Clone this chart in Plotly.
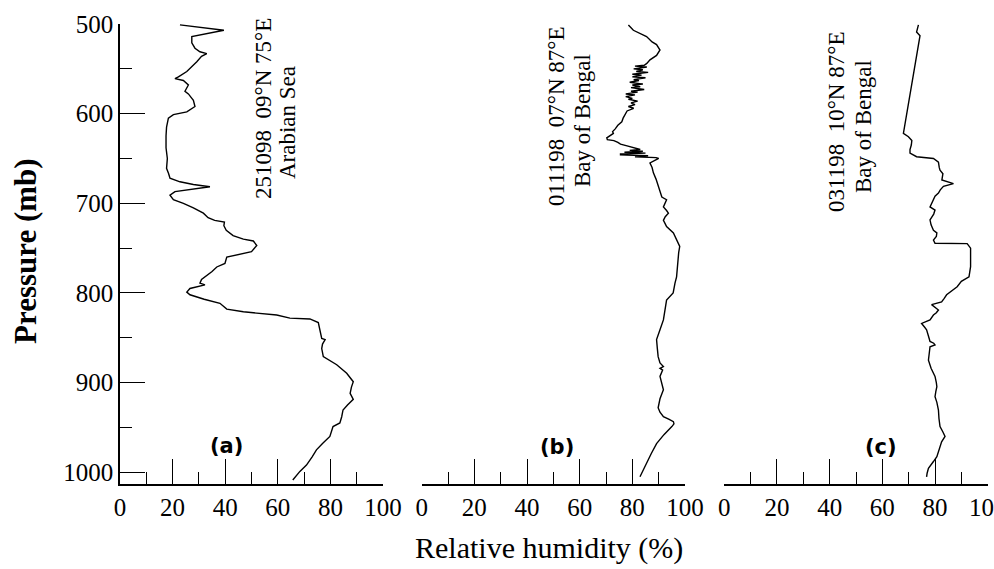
import plotly.graph_objects as go

# ---------------- data ----------------
# Panel (a) 251098 09N 75E Arabian Sea
p_a = [501, 507, 514, 521, 527, 531, 533, 536, 542, 549, 553, 559, 561, 563, 568, 575, 578,
       585, 592, 598, 601, 605, 615, 625, 638, 650, 661, 667, 672, 676, 679, 681.5, 687, 691,
       696, 700, 705, 711, 716, 719, 721, 725, 730, 736, 740, 742, 747, 754, 758, 760, 767,
       771, 776, 780, 785, 789, 791, 795, 799, 802, 807, 811.5, 818, 821, 824.6, 828, 829,
       833, 840, 850.6, 852, 857, 862, 871, 880, 889.6, 899, 905, 912, 918.6, 925, 930.5,
       938, 945, 949, 955, 960, 968, 975, 983, 992, 999, 1008.6]
rh_a = [22.8, 39.5, 27.3, 27.3, 28.5, 30.4, 33, 31, 29.2, 26.6, 25.4, 22.2, 20.9, 24.1, 26,
        24.7, 26, 27.9, 28.5, 25.4, 20.3, 18.4, 17.7, 17.5, 17.5, 18, 17.7, 18.5, 19, 22.8,
        27.9, 34.2, 20.9, 19, 20.3, 24.1, 27.9, 31.7, 33.5, 36, 39.7, 39.5, 40.4, 43, 46.9,
        50.7, 52, 50, 44.4, 40.6, 39.9, 36.8, 35, 33, 31, 30.4, 32.3, 26.6, 25.4, 26.6, 32,
        38, 40.6, 46.9, 59.6, 64.6, 72.2, 75.4, 76, 76.7, 78, 77, 76.7, 77.3, 82.4, 86.2,
        88.7, 88, 87.5, 88.7, 86.5, 84.8, 84.3, 83.6, 81, 80.3, 79.8, 77, 74.7, 73, 70.9,
        68.4, 65.7]

# Panel (b) 011198 07N 87E Bay of Bengal
p_b = [501, 507, 514, 520, 523, 529, 535, 540, 544, 546, 547, 548, 550, 551, 553, 554, 556,
       557, 559, 560, 562, 563, 565, 567, 568, 570, 571, 573, 575, 576, 578, 579, 581, 583,
       584, 586, 588, 590, 592, 594, 597, 601, 605, 609, 613, 617, 620, 622, 625, 627, 629,
       630, 632, 634, 636, 638, 640, 641, 642, 643, 644, 645, 646, 647, 648, 649, 650, 653,
       655, 660, 666, 673, 681, 687, 693, 696, 700, 704, 708, 711, 715, 719, 723, 726, 733,
       741, 748, 755, 763, 772, 782, 789, 800, 808, 818, 830, 841, 852, 862, 871, 878, 882,
       884, 886, 893, 900, 908, 918, 928, 933, 938, 941, 943.5, 946, 949, 958, 968, 979,
       990, 998, 1005]
rh_b = [78.5, 80.4, 85.4, 87.5, 89.2, 90.5, 89.2, 86.7, 85.5, 84.5, 81, 85.5, 80.5, 84,
        81.5, 86, 80, 83.5, 80, 85, 80.5, 82.5, 79, 84, 80, 83, 79.5, 84.5, 79.5, 82, 77.5,
        81, 77.5, 80, 78.5, 82, 79.5, 81, 78.5, 80.5, 78, 77.2, 76.5, 76, 74.5, 73.5, 72.5,
        72.8, 71, 70.3, 70.5, 73, 74.5, 75.5, 78, 81, 83, 79, 84, 77, 85, 75.5, 75.5, 86, 81,
        89, 90, 88, 86.7, 87.5, 88, 89, 89.8, 90.5, 91.2, 93, 92.5, 91.8, 93, 93.7, 92.5,
        91.8, 92.5, 93, 95.6, 96.8, 98, 97.6, 97.4, 97, 96.8, 96.2, 95.5, 93, 92.5, 91.8,
        90.5, 89.2, 89.5, 89.8, 90.5, 91.8, 90.5, 91.5, 90.5, 91, 91.8, 90.5, 89.8, 90.5,
        91.8, 94, 95.6, 95.8, 95, 92, 89.2, 87.2, 85.4, 84, 82.9]

# Panel (c) 031198 10N 87E Bay of Bengal
p_c = [501, 505, 509, 513, 620, 622, 625.7, 630, 635, 640, 644, 648, 650, 654, 660, 663, 667,
       674, 678, 681, 685, 688.6, 692, 696, 700, 704, 707.5, 712, 718.6, 724, 730, 733, 737,
       741, 744.6, 745, 750, 760, 770.7, 782, 787, 793, 797, 802, 806, 810, 813, 816, 819,
       822, 824.6, 830, 834, 838, 841, 848, 854, 856, 858, 860, 868, 875, 884, 893, 900,
       904.5, 910, 915.7, 922, 930.5, 940, 949, 955, 960, 966, 971, 977, 982.6, 988, 995.5,
       1001, 1005]
rh_c = [73.7, 73.2, 73, 74.3, 67.9, 68, 69.9, 71.2, 71, 70.5, 70.5, 73, 79.4, 81.3, 81.6,
        81.9, 83, 82.6, 87, 83.2, 82, 81.3, 80, 79.4, 78.5, 78.1, 80, 79.5, 78.1, 78.5, 79.4,
        80.7, 80.5, 79.4, 80, 92.2, 93.5, 93.6, 93.5, 92.9, 90, 88.4, 86.5, 84.4, 83.5, 82.5,
        78.7, 80, 81.3, 80.5, 79.4, 78.1, 74.9, 76, 76.8, 77.5, 78.1, 79.5, 80, 78.1, 77.8,
        77.5, 78.5, 80, 80.5, 80.7, 80.3, 80, 80.7, 81.3, 81.5, 81.9, 83, 83.8, 82.5, 81.9,
        81.3, 80.7, 79.4, 77.5, 77, 76.8]

x_ticks = [0, 20, 40, 60, 80, 100]
y_ticks = [500, 600, 700, 800, 900, 1000]
panel_labels = ["(a)", "(b)", "(c)"]
station_line1 = ["251098  09°N 75°E", "011198  07°N 87°E", "031198  10°N 87°E"]
station_line2 = ["Arabian Sea", "Bay of Bengal", "Bay of Bengal"]

# ---------------- figure ----------------
W, H = 994, 569
SERIF = "Liberation Serif"

def px(x):
    return x / W

def py(y):
    return 1 - y / H

fig = go.Figure()
line_style = dict(color="black", width=1.4)
for rh, p, xa in [(rh_a, p_a, "x"), (rh_b, p_b, "x2"), (rh_c, p_c, "x3")]:
    fig.add_trace(go.Scatter(x=rh, y=p, xaxis=xa, yaxis="y", mode="lines",
                             line=line_style, showlegend=False, hoverinfo="skip"))

x_domains = [[120, 383], [421.7, 685], [724.3, 987.7]]

def xaxis_style(dom):
    return dict(domain=[px(dom[0]), px(dom[1])], range=[0, 100], anchor="y",
                automargin=False, ticklabeloverflow="allow",
                showline=True, linecolor="black", linewidth=1.5,
                ticks="inside", ticklen=25, tickwidth=1.3, tickcolor="black",
                tickmode="array", tickvals=x_ticks, ticktext=[str(v) for v in x_ticks],
                minor=dict(tickmode="array", tickvals=[10, 30, 50, 70, 90],
                           ticks="inside", ticklen=12, tickwidth=1.3, tickcolor="black"),
                showgrid=False, zeroline=False, fixedrange=True,
                tickfont=dict(family=SERIF, size=25, color="black"))

layout = dict(
    template="none",
    width=W, height=H, margin=dict(l=0, r=0, t=0, b=0, pad=0), autosize=False,
    paper_bgcolor="white", plot_bgcolor="white", showlegend=False,
    yaxis=dict(domain=[py(484), py(24)], range=[1013.05, 500], anchor="x",
               automargin=False, ticklabeloverflow="allow",
               showline=True, linecolor="black", linewidth=1.5,
               ticks="inside", ticklen=25, tickwidth=1.3, tickcolor="black",
               tickmode="array", tickvals=y_ticks, ticktext=[str(v) for v in y_ticks],
               minor=dict(tickmode="array", tickvals=[550, 650, 750, 850, 950],
                          ticks="inside", ticklen=12, tickwidth=1.3, tickcolor="black"),
               showgrid=False, zeroline=False, fixedrange=True,
               tickfont=dict(family=SERIF, size=25, color="black")),
)
layout["xaxis"] = xaxis_style(x_domains[0])
layout["xaxis2"] = xaxis_style(x_domains[1])
layout["xaxis3"] = xaxis_style(x_domains[2])
fig.update_layout(**layout)

annotations = []
# axis titles
annotations.append(dict(text="<b>Pressure (mb)</b>", x=px(25), y=py(251), xref="paper", yref="paper",
                        textangle=-90, showarrow=False, xanchor="center", yanchor="middle",
                        font=dict(family=SERIF, size=31, color="black")))
annotations.append(dict(text="Relative humidity (%)", x=px(549), y=py(548), xref="paper", yref="paper",
                        showarrow=False, xanchor="center", yanchor="middle",
                        font=dict(family=SERIF, size=30, color="black")))
# panel labels
label_pos = [(226, 446), (557, 447), (881, 447)]
for t, (lx, ly) in zip(panel_labels, label_pos):
    annotations.append(dict(text="<b>" + t + "</b>", x=px(lx), y=py(ly), xref="paper", yref="paper",
                            showarrow=False, xanchor="center", yanchor="middle",
                            font=dict(family="DejaVu Sans", size=21, color="black")))
# station annotations
l1_pos = [(263, 109), (557, 116), (836, 122)]
l2_pos = [(287, 123), (582, 121), (863, 127)]
for t1, t2, (x1, y1), (x2, y2) in zip(station_line1, station_line2, l1_pos, l2_pos):
    annotations.append(dict(text=t1, x=px(x1), y=py(y1), xref="paper", yref="paper",
                            textangle=-90, showarrow=False, xanchor="center", yanchor="middle",
                            font=dict(family=SERIF, size=23, color="black")))
    annotations.append(dict(text=t2, x=px(x2), y=py(y2), xref="paper", yref="paper",
                            textangle=-90, showarrow=False, xanchor="center", yanchor="middle",
                            font=dict(family=SERIF, size=23, color="black")))
fig.update_layout(annotations=annotations)

fig.write_html("out.html",
               config={"displayModeBar": False, "staticPlot": False},
               post_script="document.body.style.margin='0px';document.body.style.padding='0px';"
                           "document.body.style.overflow='hidden';")
